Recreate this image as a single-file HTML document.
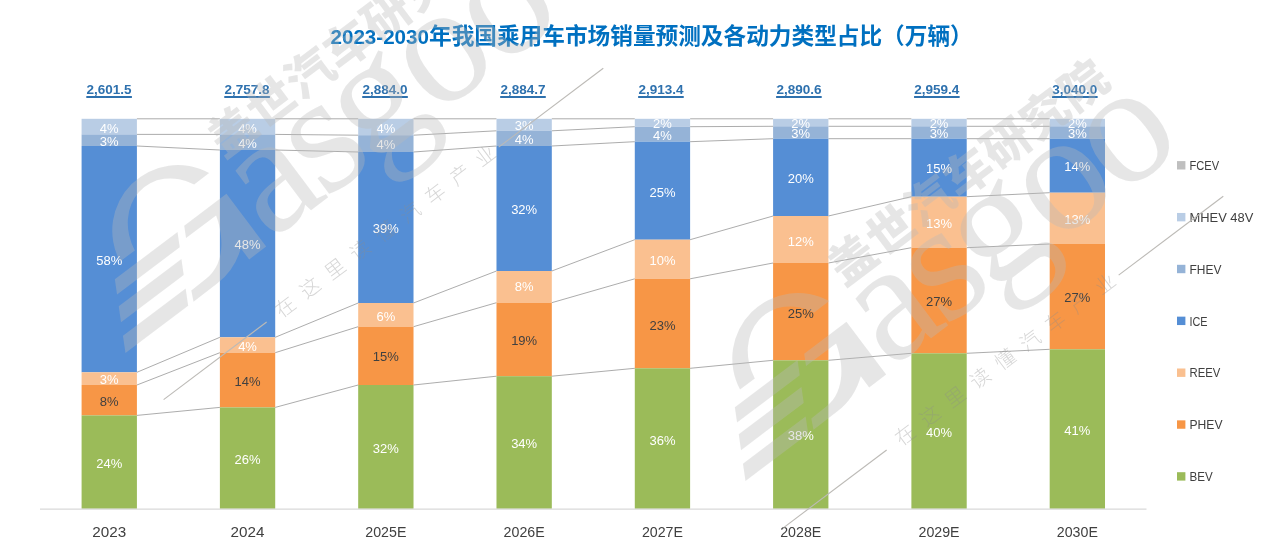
<!DOCTYPE html>
<html lang="zh-CN"><head><meta charset="utf-8"><title>2023-2030年我国乘用车市场销量预测及各动力类型占比（万辆）</title>
<style>html,body{margin:0;padding:0;background:#fff}body{width:1275px;height:552px;overflow:hidden}svg{display:block}text{font-family:"Liberation Sans","Noto Sans CJK SC",sans-serif}.dl{font-size:13px;text-anchor:middle}.tot{font-size:13.5px;font-weight:bold;text-anchor:middle;fill:#2E71AE}.ax{font-size:15px;text-anchor:middle;fill:#404040}.lg{font-size:13px;fill:#404040}</style></head><body>
<svg width="1275" height="552" viewBox="0 0 1275 552">
<rect width="1275" height="552" fill="#fff"/>
<text x="330.5" y="44" font-weight="bold" fill="#0070C0"><tspan font-size="20.6px">2023-2030</tspan><tspan font-size="22.67px" dy="-0.2">年我国乘用车市场销量预测及各动力类型占比（万辆）</tspan></text>
<g stroke="#A3A3A3" stroke-width="0.9" fill="none">
<line x1="136.91" y1="118.8" x2="219.89" y2="118.8"/>
<line x1="136.91" y1="134.4" x2="219.89" y2="134.4"/>
<line x1="136.91" y1="146" x2="219.89" y2="150"/>
<line x1="136.91" y1="372.3" x2="219.89" y2="337.3"/>
<line x1="136.91" y1="385" x2="219.89" y2="352.7"/>
<line x1="136.91" y1="415.4" x2="219.89" y2="407.4"/>
<line x1="275.21" y1="118.8" x2="358.19" y2="118.8"/>
<line x1="275.21" y1="134.4" x2="358.19" y2="135.2"/>
<line x1="275.21" y1="150" x2="358.19" y2="152"/>
<line x1="275.21" y1="337.3" x2="358.19" y2="303"/>
<line x1="275.21" y1="352.7" x2="358.19" y2="326.7"/>
<line x1="275.21" y1="407.4" x2="358.19" y2="385"/>
<line x1="413.51" y1="118.8" x2="496.49" y2="118.8"/>
<line x1="413.51" y1="135.2" x2="496.49" y2="130.8"/>
<line x1="413.51" y1="152" x2="496.49" y2="146"/>
<line x1="413.51" y1="303" x2="496.49" y2="271"/>
<line x1="413.51" y1="326.7" x2="496.49" y2="302.7"/>
<line x1="413.51" y1="385" x2="496.49" y2="376.2"/>
<line x1="551.81" y1="118.8" x2="634.79" y2="118.8"/>
<line x1="551.81" y1="130.8" x2="634.79" y2="126.7"/>
<line x1="551.81" y1="146" x2="634.79" y2="141.7"/>
<line x1="551.81" y1="271" x2="634.79" y2="239.7"/>
<line x1="551.81" y1="302.7" x2="634.79" y2="278.8"/>
<line x1="551.81" y1="376.2" x2="634.79" y2="368.3"/>
<line x1="690.11" y1="118.8" x2="773.09" y2="118.8"/>
<line x1="690.11" y1="126.7" x2="773.09" y2="126.3"/>
<line x1="690.11" y1="141.7" x2="773.09" y2="138.7"/>
<line x1="690.11" y1="239.7" x2="773.09" y2="216"/>
<line x1="690.11" y1="278.8" x2="773.09" y2="263"/>
<line x1="690.11" y1="368.3" x2="773.09" y2="360.3"/>
<line x1="828.41" y1="118.8" x2="911.39" y2="118.8"/>
<line x1="828.41" y1="126.3" x2="911.39" y2="126.3"/>
<line x1="828.41" y1="138.7" x2="911.39" y2="138.7"/>
<line x1="828.41" y1="216" x2="911.39" y2="196.7"/>
<line x1="828.41" y1="263" x2="911.39" y2="247.7"/>
<line x1="828.41" y1="360.3" x2="911.39" y2="353.3"/>
<line x1="966.71" y1="118.8" x2="1049.69" y2="118.8"/>
<line x1="966.71" y1="126.3" x2="1049.69" y2="126.3"/>
<line x1="966.71" y1="138.7" x2="1049.69" y2="138.7"/>
<line x1="966.71" y1="196.7" x2="1049.69" y2="192.7"/>
<line x1="966.71" y1="247.7" x2="1049.69" y2="244"/>
<line x1="966.71" y1="353.3" x2="1049.69" y2="349.3"/>
</g>
<rect x="81.59" y="118.8" width="55.32" height="15.6" fill="#B9CDE5"/>
<rect x="81.59" y="134.4" width="55.32" height="11.6" fill="#95B3D7"/>
<rect x="81.59" y="146" width="55.32" height="226.3" fill="#558ED5"/>
<rect x="81.59" y="372.3" width="55.32" height="12.7" fill="#FAC090"/>
<rect x="81.59" y="385" width="55.32" height="30.4" fill="#F79646"/>
<rect x="81.59" y="415.4" width="55.32" height="93.4" fill="#9BBB59"/>
<rect x="219.89" y="118.8" width="55.32" height="15.6" fill="#B9CDE5"/>
<rect x="219.89" y="134.4" width="55.32" height="15.6" fill="#95B3D7"/>
<rect x="219.89" y="150" width="55.32" height="187.3" fill="#558ED5"/>
<rect x="219.89" y="337.3" width="55.32" height="15.4" fill="#FAC090"/>
<rect x="219.89" y="352.7" width="55.32" height="54.7" fill="#F79646"/>
<rect x="219.89" y="407.4" width="55.32" height="101.4" fill="#9BBB59"/>
<rect x="358.19" y="118.8" width="55.32" height="16.4" fill="#B9CDE5"/>
<rect x="358.19" y="135.2" width="55.32" height="16.8" fill="#95B3D7"/>
<rect x="358.19" y="152" width="55.32" height="151" fill="#558ED5"/>
<rect x="358.19" y="303" width="55.32" height="23.7" fill="#FAC090"/>
<rect x="358.19" y="326.7" width="55.32" height="58.3" fill="#F79646"/>
<rect x="358.19" y="385" width="55.32" height="123.8" fill="#9BBB59"/>
<rect x="496.49" y="118.8" width="55.32" height="12" fill="#B9CDE5"/>
<rect x="496.49" y="130.8" width="55.32" height="15.2" fill="#95B3D7"/>
<rect x="496.49" y="146" width="55.32" height="125" fill="#558ED5"/>
<rect x="496.49" y="271" width="55.32" height="31.7" fill="#FAC090"/>
<rect x="496.49" y="302.7" width="55.32" height="73.5" fill="#F79646"/>
<rect x="496.49" y="376.2" width="55.32" height="132.6" fill="#9BBB59"/>
<rect x="634.79" y="118.8" width="55.32" height="7.9" fill="#B9CDE5"/>
<rect x="634.79" y="126.7" width="55.32" height="15" fill="#95B3D7"/>
<rect x="634.79" y="141.7" width="55.32" height="98" fill="#558ED5"/>
<rect x="634.79" y="239.7" width="55.32" height="39.1" fill="#FAC090"/>
<rect x="634.79" y="278.8" width="55.32" height="89.5" fill="#F79646"/>
<rect x="634.79" y="368.3" width="55.32" height="140.5" fill="#9BBB59"/>
<rect x="773.09" y="118.8" width="55.32" height="7.5" fill="#B9CDE5"/>
<rect x="773.09" y="126.3" width="55.32" height="12.4" fill="#95B3D7"/>
<rect x="773.09" y="138.7" width="55.32" height="77.3" fill="#558ED5"/>
<rect x="773.09" y="216" width="55.32" height="47" fill="#FAC090"/>
<rect x="773.09" y="263" width="55.32" height="97.3" fill="#F79646"/>
<rect x="773.09" y="360.3" width="55.32" height="148.5" fill="#9BBB59"/>
<rect x="911.39" y="118.8" width="55.32" height="7.5" fill="#B9CDE5"/>
<rect x="911.39" y="126.3" width="55.32" height="12.4" fill="#95B3D7"/>
<rect x="911.39" y="138.7" width="55.32" height="58" fill="#558ED5"/>
<rect x="911.39" y="196.7" width="55.32" height="51" fill="#FAC090"/>
<rect x="911.39" y="247.7" width="55.32" height="105.6" fill="#F79646"/>
<rect x="911.39" y="353.3" width="55.32" height="155.5" fill="#9BBB59"/>
<rect x="1049.69" y="118.8" width="55.32" height="7.5" fill="#B9CDE5"/>
<rect x="1049.69" y="126.3" width="55.32" height="12.4" fill="#95B3D7"/>
<rect x="1049.69" y="138.7" width="55.32" height="54" fill="#558ED5"/>
<rect x="1049.69" y="192.7" width="55.32" height="51.3" fill="#FAC090"/>
<rect x="1049.69" y="244" width="55.32" height="105.3" fill="#F79646"/>
<rect x="1049.69" y="349.3" width="55.32" height="159.5" fill="#9BBB59"/>
<line x1="40" y1="509.2" x2="1146.5" y2="509.2" stroke="#D9D9D9" stroke-width="1.3"/>
<text class="dl" x="109.25" y="132.7" fill="#fff">4%</text>
<text class="dl" x="109.25" y="146.4" fill="#fff">3%</text>
<text class="dl" x="109.25" y="265.1" fill="#fff">58%</text>
<text class="dl" x="109.25" y="383.7" fill="#fff">3%</text>
<text class="dl" x="109.25" y="406.4" fill="#404040">8%</text>
<text class="dl" x="109.25" y="468.4" fill="#fff">24%</text>
<text class="tot" x="109.1" y="94">2,601.5</text>
<rect x="86.3" y="96" width="45.6" height="2" fill="#2E71AE"/>
<text class="ax" x="109.25" y="537.4" textLength="33.9" lengthAdjust="spacingAndGlyphs">2023</text>
<text class="dl" x="247.55" y="132.7" fill="#fff">4%</text>
<text class="dl" x="247.55" y="148" fill="#fff">4%</text>
<text class="dl" x="247.55" y="249" fill="#fff">48%</text>
<text class="dl" x="247.55" y="351.4" fill="#fff">4%</text>
<text class="dl" x="247.55" y="385.7" fill="#404040">14%</text>
<text class="dl" x="247.55" y="464" fill="#fff">26%</text>
<text class="tot" x="247.06" y="94">2,757.8</text>
<rect x="224.26" y="96" width="45.6" height="2" fill="#2E71AE"/>
<text class="ax" x="247.55" y="537.4" textLength="33.9" lengthAdjust="spacingAndGlyphs">2024</text>
<text class="dl" x="385.85" y="133" fill="#fff">4%</text>
<text class="dl" x="385.85" y="148.7" fill="#fff">4%</text>
<text class="dl" x="385.85" y="233" fill="#fff">39%</text>
<text class="dl" x="385.85" y="320.7" fill="#fff">6%</text>
<text class="dl" x="385.85" y="361" fill="#404040">15%</text>
<text class="dl" x="385.85" y="452.7" fill="#fff">32%</text>
<text class="tot" x="385.02" y="94">2,884.0</text>
<rect x="362.22" y="96" width="45.6" height="2" fill="#2E71AE"/>
<text class="ax" x="385.85" y="537.4" textLength="41.1" lengthAdjust="spacingAndGlyphs">2025E</text>
<text class="dl" x="524.15" y="130.4" fill="#fff">3%</text>
<text class="dl" x="524.15" y="144.4" fill="#fff">4%</text>
<text class="dl" x="524.15" y="213.7" fill="#fff">32%</text>
<text class="dl" x="524.15" y="291.4" fill="#fff">8%</text>
<text class="dl" x="524.15" y="345" fill="#404040">19%</text>
<text class="dl" x="524.15" y="448.4" fill="#fff">34%</text>
<text class="tot" x="522.98" y="94">2,884.7</text>
<rect x="500.18" y="96" width="45.6" height="2" fill="#2E71AE"/>
<text class="ax" x="524.15" y="537.4" textLength="41.1" lengthAdjust="spacingAndGlyphs">2026E</text>
<text class="dl" x="662.45" y="128.4" fill="#fff">2%</text>
<text class="dl" x="662.45" y="139.7" fill="#fff">4%</text>
<text class="dl" x="662.45" y="197" fill="#fff">25%</text>
<text class="dl" x="662.45" y="265" fill="#fff">10%</text>
<text class="dl" x="662.45" y="329.7" fill="#404040">23%</text>
<text class="dl" x="662.45" y="445" fill="#fff">36%</text>
<text class="tot" x="660.94" y="94">2,913.4</text>
<rect x="638.14" y="96" width="45.6" height="2" fill="#2E71AE"/>
<text class="ax" x="662.45" y="537.4" textLength="41.1" lengthAdjust="spacingAndGlyphs">2027E</text>
<text class="dl" x="800.75" y="128.4" fill="#fff">2%</text>
<text class="dl" x="800.75" y="138" fill="#fff">3%</text>
<text class="dl" x="800.75" y="183.4" fill="#fff">20%</text>
<text class="dl" x="800.75" y="246.4" fill="#fff">12%</text>
<text class="dl" x="800.75" y="318" fill="#404040">25%</text>
<text class="dl" x="800.75" y="440.4" fill="#fff">38%</text>
<text class="tot" x="798.9" y="94">2,890.6</text>
<rect x="776.1" y="96" width="45.6" height="2" fill="#2E71AE"/>
<text class="ax" x="800.75" y="537.4" textLength="41.1" lengthAdjust="spacingAndGlyphs">2028E</text>
<text class="dl" x="939.05" y="128.4" fill="#fff">2%</text>
<text class="dl" x="939.05" y="138" fill="#fff">3%</text>
<text class="dl" x="939.05" y="173" fill="#fff">15%</text>
<text class="dl" x="939.05" y="228.4" fill="#fff">13%</text>
<text class="dl" x="939.05" y="306.4" fill="#404040">27%</text>
<text class="dl" x="939.05" y="437" fill="#fff">40%</text>
<text class="tot" x="936.86" y="94">2,959.4</text>
<rect x="914.06" y="96" width="45.6" height="2" fill="#2E71AE"/>
<text class="ax" x="939.05" y="537.4" textLength="41.1" lengthAdjust="spacingAndGlyphs">2029E</text>
<text class="dl" x="1077.35" y="128.4" fill="#fff">2%</text>
<text class="dl" x="1077.35" y="138" fill="#fff">3%</text>
<text class="dl" x="1077.35" y="171.4" fill="#fff">14%</text>
<text class="dl" x="1077.35" y="223.7" fill="#fff">13%</text>
<text class="dl" x="1077.35" y="302" fill="#404040">27%</text>
<text class="dl" x="1077.35" y="435.4" fill="#fff">41%</text>
<text class="tot" x="1074.82" y="94">3,040.0</text>
<rect x="1052.02" y="96" width="45.6" height="2" fill="#2E71AE"/>
<text class="ax" x="1077.35" y="537.4" textLength="41.1" lengthAdjust="spacingAndGlyphs">2030E</text>
<rect x="1177" y="161.1" width="8.4" height="8.4" fill="#BFBFBF"/>
<text class="lg" x="1189.5" y="170" textLength="29.6" lengthAdjust="spacingAndGlyphs">FCEV</text>
<rect x="1177" y="212.95" width="8.4" height="8.4" fill="#B9CDE5"/>
<text class="lg" x="1189.5" y="221.85" textLength="63.8" lengthAdjust="spacingAndGlyphs">MHEV 48V</text>
<rect x="1177" y="264.8" width="8.4" height="8.4" fill="#95B3D7"/>
<text class="lg" x="1189.5" y="273.7" textLength="31.9" lengthAdjust="spacingAndGlyphs">FHEV</text>
<rect x="1177" y="316.65" width="8.4" height="8.4" fill="#558ED5"/>
<text class="lg" x="1189.5" y="325.55" textLength="18.1" lengthAdjust="spacingAndGlyphs">ICE</text>
<rect x="1177" y="368.5" width="8.4" height="8.4" fill="#FAC090"/>
<text class="lg" x="1189.5" y="377.4" textLength="30.8" lengthAdjust="spacingAndGlyphs">REEV</text>
<rect x="1177" y="420.35" width="8.4" height="8.4" fill="#F79646"/>
<text class="lg" x="1189.5" y="429.25" textLength="33" lengthAdjust="spacingAndGlyphs">PHEV</text>
<rect x="1177" y="472.2" width="8.4" height="8.4" fill="#9BBB59"/>
<text class="lg" x="1189.5" y="481.1" textLength="23.2" lengthAdjust="spacingAndGlyphs">BEV</text>
<g transform="translate(251,258) rotate(-37)">
<g opacity="0.35" fill="#BABABA"><title>Gasgoo 盖世汽车研究院</title>
<path d="M17.7,-93 A65.5,65.5 0 0 0 -106.7,-76 L-88.2,-76 A47,55 0 0 1 -1.1,-93 Z"/>
<path d="M-121.5,-65.0 L-43.0,-65.0 L-50.4,-51.5 L-128.9,-51.5 Z"/>
<path d="M-134.7,-41.0 L-56.2,-41.0 L-63.9,-27.0 L-142.4,-27.0 Z"/>
<path d="M-149.0,-15.0 L-70.5,-15.0 L-78.9,0.3 L-157.4,0.3 Z"/>
<path d="M-33.9,-66 L19,-66 L19,0 L-2.3,0 L-2.3,-14 A65.5,65.5 0 0 1 -42,0 L-72.2,0.3 L-67.2,-10 L-48,-10.5 C-22,-11 -7,-38 -2.3,-55 L-39.9,-55 Z"/>
<text x="25 94 151 232.6 311.6" y="-2" style="font-family:'Liberation Serif',serif;font-size:170px">asgoo</text>
<text x="38" y="-95.2" style="font-family:'Liberation Sans','Noto Sans CJK SC',sans-serif;font-weight:900;font-size:47px;letter-spacing:1.2px">盖世汽车研究院</text>
<text x="-12" y="66.6" style="font-family:'Liberation Sans','Noto Sans CJK SC',sans-serif;font-weight:300;font-size:20px;letter-spacing:11.3px;fill:#8c8c8c">在这里读懂汽车产业</text>
</g>
<g stroke="#BCBAB6" stroke-width="1.1"><line x1="-155" y1="60.5" x2="-26" y2="60.5"/><line x1="264.5" y1="60.5" x2="395.5" y2="60.5"/></g>
</g>
<g transform="translate(871,386) rotate(-37)">
<g opacity="0.35" fill="#BABABA"><title>Gasgoo 盖世汽车研究院</title>
<path d="M17.7,-93 A65.5,65.5 0 0 0 -106.7,-76 L-88.2,-76 A47,55 0 0 1 -1.1,-93 Z"/>
<path d="M-121.5,-65.0 L-43.0,-65.0 L-50.4,-51.5 L-128.9,-51.5 Z"/>
<path d="M-134.7,-41.0 L-56.2,-41.0 L-63.9,-27.0 L-142.4,-27.0 Z"/>
<path d="M-149.0,-15.0 L-70.5,-15.0 L-78.9,0.3 L-157.4,0.3 Z"/>
<path d="M-33.9,-66 L19,-66 L19,0 L-2.3,0 L-2.3,-14 A65.5,65.5 0 0 1 -42,0 L-72.2,0.3 L-67.2,-10 L-48,-10.5 C-22,-11 -7,-38 -2.3,-55 L-39.9,-55 Z"/>
<text x="25 94 151 232.6 311.6" y="-2" style="font-family:'Liberation Serif',serif;font-size:170px">asgoo</text>
<text x="38" y="-95.2" style="font-family:'Liberation Sans','Noto Sans CJK SC',sans-serif;font-weight:900;font-size:47px;letter-spacing:1.2px">盖世汽车研究院</text>
<text x="-12" y="66.6" style="font-family:'Liberation Sans','Noto Sans CJK SC',sans-serif;font-weight:300;font-size:20px;letter-spacing:11.3px;fill:#8c8c8c">在这里读懂汽车产业</text>
</g>
<g stroke="#BCBAB6" stroke-width="1.1"><line x1="-155" y1="60.5" x2="-26" y2="60.5"/><line x1="264.5" y1="60.5" x2="395.5" y2="60.5"/></g>
</g>
</svg></body></html>
